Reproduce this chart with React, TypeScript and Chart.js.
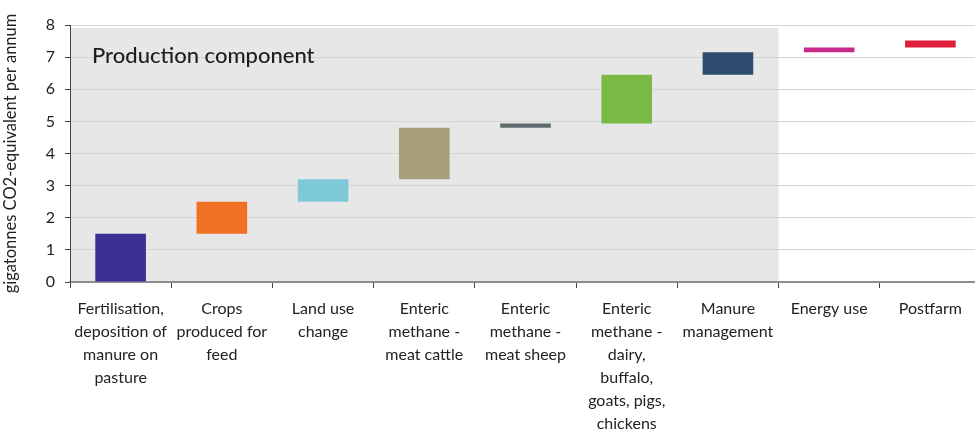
import React, { useEffect, useRef } from "react";
import { Chart, registerables } from "chart.js";

Chart.register(...registerables);

const categories: string[][] = [
  ["Fertilisation,", "deposition of", "manure on", "pasture"],
  ["Crops", "produced for", "feed"],
  ["Land use", "change"],
  ["Enteric", "methane -", "meat cattle"],
  ["Enteric", "methane -", "meat sheep"],
  ["Enteric", "methane -", "dairy,", "buffalo,", "goats, pigs,", "chickens"],
  ["Manure", "management"],
  ["Energy use"],
  ["Postfarm"],
];
const lows = [0, 1.5, 2.5, 3.2, 4.8, 4.93, 6.45, 7.15, 7.3];
const highs = [1.5, 2.5, 3.2, 4.8, 4.93, 6.45, 7.15, 7.3, 7.52];
const colors = [
  "#3a2f93",
  "#f07024",
  "#7ec9d9",
  "#a79f78",
  "#5e6a6c",
  "#7ab943",
  "#2d4b6d",
  "#c92a8a",
  "#e01f3d",
];
const yMin = 0;
const yMax = 8;
const yStep = 1;
const productionCount = 7;
const yTitle = "gigatonnes CO2-equivalent per annum";
const boxLabel = "Production component";

const FONT = "Lato, 'Open Sans', sans-serif";

const shadePlugin = {
  id: "shade",
  beforeDraw(chart: any) {
    const { ctx, chartArea, scales } = chart;
    const x = scales.x;
    const right =
      (x.getPixelForValue(productionCount - 1) + x.getPixelForValue(productionCount)) / 2;
    ctx.save();
    ctx.fillStyle = "#e8e7e7";
    ctx.fillRect(chartArea.left, chartArea.top + 3, right - chartArea.left, chartArea.bottom - chartArea.top - 3);
    ctx.restore();
  },
  afterDraw(chart: any) {
    const { ctx, chartArea } = chart;
    ctx.save();
    ctx.fillStyle = "#1e1e1e";
    ctx.font = "500 22px " + FONT;
    ctx.textBaseline = "middle";
    ctx.fillText(boxLabel, chartArea.left + 22, chartArea.top + 31);
    ctx.restore();
  },
};

export default function App() {
  const ref = useRef<HTMLCanvasElement | null>(null);
  useEffect(() => {
    if (!ref.current) return;
    const chart = new Chart(ref.current, {
      type: "bar",
      data: {
        labels: categories as any,
        datasets: [
          {
            data: lows.map((l, i) => [l, highs[i]]) as any,
            backgroundColor: colors,
            borderWidth: 0,
            barPercentage: 0.5,
            categoryPercentage: 1,
          },
        ],
      },
      options: {
        responsive: false,
        animation: false,
        devicePixelRatio: 1,
        layout: { padding: { top: 25, right: 4, left: 0, bottom: 0 } },
        plugins: {
          legend: { display: false },
          tooltip: { enabled: false },
        },
        scales: {
          x: {
            offset: true,
            grid: {
              offset: true,
              drawOnChartArea: false,
              drawTicks: true,
              tickLength: 6,
              tickColor: "#444",
              color: "#444",
            },
            border: { color: "#8e8e8e", width: 2 },
            ticks: {
              color: "#222",
              autoSkip: false,
              maxRotation: 0,
              minRotation: 0,
              padding: 9,
              font: { family: FONT, size: 16, lineHeight: 1.44 },
            },
            afterFit: (s: any) => {
              s.height = 148;
            },
          },
          y: {
            min: yMin,
            max: yMax,
            grid: { color: "#d4d4d4", tickLength: 5, tickColor: "#444" },
            border: { color: "#444", width: 1 },
            ticks: {
              stepSize: yStep,
              color: "#222",
              padding: 10,
              font: { family: FONT, size: 16 },
            },
            title: {
              display: true,
              text: yTitle,
              color: "#222",
              font: { family: FONT, size: 16.5 },
              padding: { top: 1, bottom: 0 },
            },
            afterFit: (s: any) => {
              s.width = 70;
            },
          },
        },
      },
      plugins: [shadePlugin],
    });
    return () => chart.destroy();
  }, []);
  return (
    <div style={{ position: "fixed", left: 0, top: 0, width: 985, height: 430, background: "#fff" }}>
      <canvas ref={ref} width={985} height={430} style={{ display: "block" }} />
    </div>
  );
}
